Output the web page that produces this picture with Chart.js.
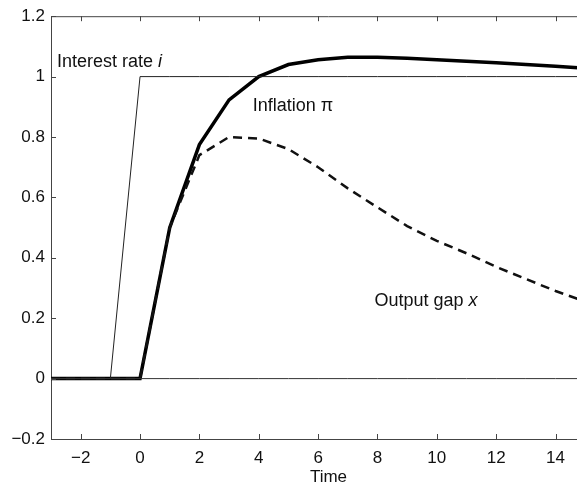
<!DOCTYPE html>
<html>
<head>
<meta charset="utf-8">
<script src="https://cdn.jsdelivr.net/npm/chart.js@4"></script>
<style>
  html, body { margin: 0; padding: 0; overflow: hidden; background: #fff; }
  canvas { display: block; }
</style>
</head>
<body>
<canvas id="chart" width="620" height="486"></canvas>
<script>
// time axis and series
var timeSteps    = [-3, -2, -1, 0, 1, 2, 3, 4, 5, 6, 7, 8, 9, 10, 11, 12, 13, 14, 15, 16];
var interestRate = [0, 0, 0, 1, 1, 1, 1, 1, 1, 1, 1, 1, 1, 1, 1, 1, 1, 1, 1, 1];
var inflation    = [0, 0, 0, 0, 0.50, 0.775, 0.923, 1.0, 1.04, 1.056, 1.064, 1.064, 1.061, 1.056, 1.051, 1.046, 1.04, 1.034, 1.028, 1.022];
var outputGap    = [0, 0, 0, 0, 0.50, 0.74, 0.80, 0.795, 0.76, 0.70, 0.63, 0.567, 0.505, 0.456, 0.415, 0.37, 0.33, 0.29, 0.255, 0.225];
var zeroLine     = [0, 0, 0, 0, 0, 0, 0, 0, 0, 0, 0, 0, 0, 0, 0, 0, 0, 0, 0, 0];

var xTicks = [-2, 0, 2, 4, 6, 8, 10, 12, 14];
var yTicks = [-0.2, 0, 0.2, 0.4, 0.6, 0.8, 1, 1.2];

// label anchors (data coords) for the in-plot annotations
var labels = [
  { text: 'Interest rate ', sym: 'i', x: -2.8, y: 1.032 },
  { text: 'Inflation ', sym: 'π', x: 3.8, y: 0.885, upright: true },
  { text: 'Output gap ', sym: 'x', x: 7.9, y: 0.24 }
];

function pts(ys) {
  return timeSteps.map(function (t, i) { return { x: t, y: ys[i] }; });
}

var fontFamily = '"Liberation Sans", Arial, Helvetica, sans-serif';

// frame on top plus inward tick marks, and the annotations
var framePlugin = {
  id: 'frame',
  afterDraw: function (chart) {
    var ctx = chart.ctx;
    var area = chart.chartArea;
    var xs = chart.scales.x, ys = chart.scales.y;
    var len = 5;
    ctx.save();
    ctx.strokeStyle = '#444';
    ctx.lineWidth = 1;
    ctx.beginPath();
    ctx.moveTo(area.left, area.top + 0.5);
    ctx.lineTo(area.right, area.top + 0.5);
    xTicks.forEach(function (v) {
      var px = Math.round(xs.getPixelForValue(v)) + 0.5;
      ctx.moveTo(px, area.bottom);
      ctx.lineTo(px, area.bottom - len);
      ctx.moveTo(px, area.top);
      ctx.lineTo(px, area.top + len);
    });
    yTicks.forEach(function (v) {
      var py = Math.round(ys.getPixelForValue(v)) + 0.5;
      ctx.moveTo(area.left, py);
      ctx.lineTo(area.left + len, py);
    });
    ctx.stroke();

    ctx.fillStyle = '#111';
    ctx.textBaseline = 'alphabetic';
    labels.forEach(function (l) {
      var px = xs.getPixelForValue(l.x);
      var py = ys.getPixelForValue(l.y);
      ctx.font = '18px ' + fontFamily;
      ctx.fillText(l.text, px, py);
      var w = ctx.measureText(l.text).width;
      ctx.font = (l.upright ? '' : 'italic ') + '18px ' + fontFamily;
      ctx.fillText(l.sym, px + w, py);
    });
    ctx.restore();
  }
};

new Chart(document.getElementById('chart'), {
  type: 'line',
  data: {
    datasets: [
      { data: pts(zeroLine), borderColor: '#333', borderWidth: 1, pointRadius: 0 },
      { data: pts(interestRate), borderColor: '#222', borderWidth: 1, pointRadius: 0 },
      { data: pts(outputGap), borderColor: '#111', borderWidth: 2.5, borderDash: [9, 6], pointRadius: 0 },
      { data: pts(inflation), borderColor: '#000', borderWidth: 3.5, pointRadius: 0 }
    ]
  },
  options: {
    responsive: false,
    animation: false,
    layout: { padding: { left: 0, top: 16, right: 14, bottom: 0 } },
    plugins: { legend: { display: false }, tooltip: { enabled: false } },
    elements: { line: { tension: 0, borderCapStyle: 'butt', borderJoinStyle: 'miter' } },
    scales: {
      x: {
        type: 'linear',
        min: -3,
        max: 15.7,
        afterBuildTicks: function (s) { s.ticks = xTicks.map(function (v) { return { value: v }; }); },
        afterFit: function (s) { s.height = 47; },
        grid: { display: false, drawTicks: false },
        border: { display: true, color: '#444', width: 1 },
        ticks: {
          padding: 9,
          color: '#111',
          font: { family: fontFamily, size: 17 },
          callback: function (v) { return v < 0 ? '\u2212' + Math.abs(v) : String(v); }
        },
        title: {
          display: true,
          text: 'Time',
          color: '#111',
          font: { family: fontFamily, size: 17 },
          padding: { top: 0, bottom: -2 }
        }
      },
      y: {
        type: 'linear',
        min: -0.2,
        max: 1.2,
        afterBuildTicks: function (s) { s.ticks = yTicks.map(function (v) { return { value: v }; }); },
        afterFit: function (s) { s.width = 51; },
        grid: { display: false, drawTicks: false },
        border: { display: true, color: '#444', width: 1 },
        ticks: {
          padding: 6,
          color: '#111',
          font: { family: fontFamily, size: 17 },
          callback: function (v) {
            var s = String(Math.round(v * 10) / 10);
            return v < 0 ? '\u2212' + s.slice(1) : s;
          }
        }
      }
    }
  },
  plugins: [framePlugin]
});
</script>
</body>
</html>
